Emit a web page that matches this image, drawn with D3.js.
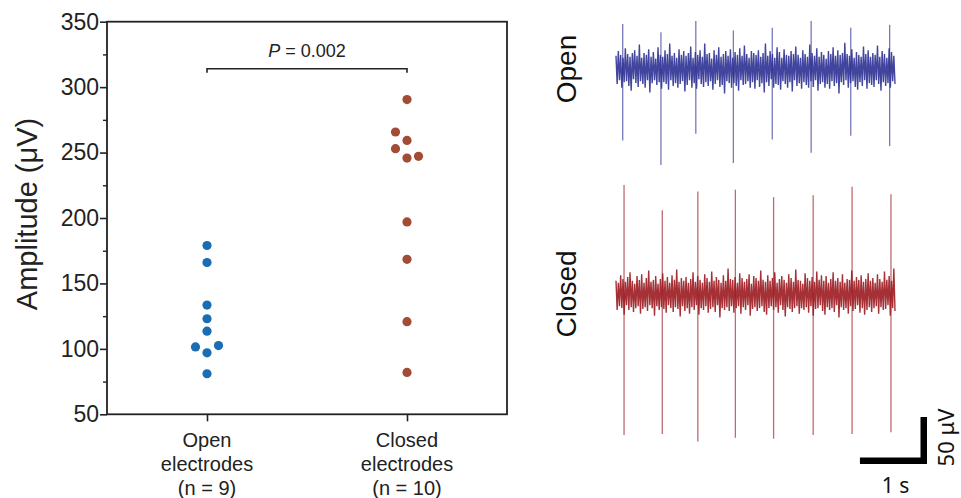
<!DOCTYPE html>
<html lang="en">
<head>
<meta charset="UTF-8">
<title>Amplitude open vs closed electrodes</title>
<script src="https://d3js.org/d3.v7.min.js"></script>
<style>
  body { margin: 0; background: #fff; }
  svg { display: block; font-family: "Liberation Sans", Arial, sans-serif; }
</style>
</head>
<body>
<div id="viz"></div>
<script>
// ---- data ----
var groups = ["Open", "Closed"];
var groupLabels = [["Open", "electrodes", "(n = 9)"], ["Closed", "electrodes", "(n = 10)"]];
var openAmp   = [179, 166, 133.5, 123, 113.5, 101.5, 102.5, 97, 81];
var openLane  = [0, 0, 0, 0, 0, -1, 1, 0, 0];
var closedAmp  = [290.5, 265.7, 259.3, 253, 247.1, 245.8, 197, 168.4, 120.8, 82];
var closedLane = [0, -1, 0, -1, 1, 0, 0, 0, 0, 0];
var yTicks = [50, 100, 150, 200, 250, 300, 350];
var yMinor = [75, 125, 175, 225, 275, 325];
var pText = "0.002";
var bracketAt = 314;   // µV level of the significance bracket

// traces: spike times (s), spike peak above / below baseline (µV)
var openSpikeT    = [0.10, 0.67, 1.19, 1.75, 2.33, 2.91, 3.50, 4.08];
var openSpikeUp   = [48, 39, 51, 41, 44, 51, 44, 47];
var openSpikeDown = [76, 102, 69, 100, 75, 89, 71, 82];
var closedSpikeT    = [0.12, 0.69, 1.22, 1.78, 2.35, 2.94, 3.52, 4.10];
var closedSpikeUp   = [116, 89, 109, 111, 103, 105, 114, 106];
var closedSpikeDown = [150, 149, 157, 153, 154, 150, 149, 147];
var traceDur = 4.16;   // s

// background noise peaks (µV), alternating up / down
var openNoise = [
  14,-16, 19,-12, 15,-20, 12,-14, 22,-13, 16,-18, 13,-23, 17,-11, 20,-15, 14,-19,
  26,-13, 12,-16, 17,-20, 15,-12, 21,-25, 13,-15, 18,-12, 11,-17, 23,-14, 15,-21,
  13,-14, 20,-16, 16,-22, 27,-12, 14,-18, 17,-15, 12,-20, 21,-16, 15,-13, 19,-24,
  14,-17, 17,-12, 24,-20, 12,-15, 18,-21, 15,-11, 20,-16, 13,-19, 27,-14, 16,-18,
  17,-13, 11,-22, 20,-16, 15,-12, 23,-19, 13,-17, 16,-26, 19,-13, 14,-15, 21,-20,
  12,-15, 18,-18, 15,-23, 22,-12, 14,-17, 25,-16, 16,-13, 12,-20, 19,-14, 17,-21,
  15,-12, 20,-19, 13,-15, 17,-25, 27,-14, 14,-18, 19,-11, 16,-20, 12,-16, 23,-17,
  18,-22, 12,-13, 21,-16, 15,-20, 14,-14, 19,-24, 16,-12, 24,-18, 15,-15, 12,-21,
  20,-14, 16,-17, 13,-20, 26,-13, 17,-19, 14,-12, 22,-23, 13,-16, 18,-14, 15,-20,
  11,-16, 19,-21, 16,-13, 23,-18, 14,-15, 20,-26, 15,-14, 17,-17, 28,-12, 16,-20,
  14,-15, 21,-13, 12,-19, 18,-22, 15,-14, 13,-18, 24,-12, 16,-21, 20,-15, 13,-17,
  17,-19, 15,-12, 25,-16, 13,-23, 19,-14, 16,-18, 12,-15, 22,-20, 18,-13, 14,-16];
var closedNoise = [
  14,-17, 12,-13, 20,-15, 16,-22, 13,-12, 18,-17, 23,-14, 14,-19, 11,-15, 19,-13,
  15,-21, 21,-16, 12,-14, 17,-18, 25,-12, 13,-15, 15,-23, 19,-13, 11,-17, 16,-14,
  22,-16, 14,-20, 18,-12, 12,-15, 20,-19, 15,-14, 26,-16, 13,-24, 17,-13, 14,-18,
  18,-15, 12,-21, 16,-14, 23,-17, 13,-12, 19,-22, 15,-15, 12,-17, 21,-13, 17,-20,
  13,-16, 24,-14, 14,-19, 18,-12, 15,-25, 12,-15, 20,-17, 14,-14, 27,-18, 16,-13,
  15,-20, 18,-15, 12,-13, 22,-21, 17,-14, 13,-17, 16,-12, 21,-23, 11,-16, 19,-14,
  17,-18, 14,-15, 25,-13, 15,-19, 13,-22, 20,-15, 14,-13, 17,-17, 23,-14, 12,-20,
  16,-12, 19,-17, 15,-24, 12,-14, 21,-16, 17,-19, 13,-15, 26,-13, 15,-21, 14,-15,
  11,-17, 22,-14, 17,-20, 14,-13, 18,-23, 13,-16, 24,-15, 15,-12, 20,-18, 14,-22,
  19,-14, 12,-17, 16,-15, 23,-19, 14,-12, 17,-25, 13,-14, 21,-17, 12,-15, 16,-21,
  15,-13, 25,-18, 14,-16, 18,-12, 15,-20, 20,-15, 13,-22, 16,-17, 22,-14, 14,-19,
  17,-15, 12,-13, 21,-21, 16,-14, 13,-17, 24,-16, 15,-12, 19,-23, 14,-15, 27,-18];

var W = 961, H = 498;
var svg = d3.select("#viz").append("svg")
  .attr("width", W)
  .attr("height", H);

// ================= left: dot plot =================
var fx0 = 107, fx1 = 507, fy0 = 21.7, fy1 = 414.3;
var y = d3.scaleLinear().domain([50, 350]).range([fy1, fy0]);
var x = d3.scalePoint().domain(groups).range([fx0, fx1]).padding(0.5);
var lane = d3.scaleLinear().domain([-1, 1]).range([-11.5, 11.5]);

var plot = svg.append("g");

// frame
plot.append("rect")
  .attr("x", fx0).attr("y", fy0)
  .attr("width", fx1 - fx0).attr("height", fy1 - fy0)
  .attr("fill", "none").attr("stroke", "#222").attr("stroke-width", 1.8);

// y axis, major + minor ticks
var yAx = plot.append("g").attr("transform", "translate(" + fx0 + ",0)")
  .call(d3.axisLeft(y).tickValues(yTicks).tickSize(7).tickPadding(1));
yAx.select(".domain").remove();
yAx.selectAll("line").attr("stroke", "#222").attr("stroke-width", 1.6);
yAx.selectAll("text").attr("font-size", 23).attr("fill", "#222")
  .attr("font-family", "Liberation Sans, Arial, sans-serif");

var yMin = plot.append("g").attr("transform", "translate(" + fx0 + ",0)")
  .call(d3.axisLeft(y).tickValues(yMinor).tickSize(4).tickFormat(""));
yMin.select(".domain").remove();
yMin.selectAll("line").attr("stroke", "#222").attr("stroke-width", 1.4);

// x axis ticks
var xAx = plot.append("g").attr("transform", "translate(0," + fy1 + ")")
  .call(d3.axisBottom(x).tickSize(7).tickFormat(""));
xAx.select(".domain").remove();
xAx.selectAll("line").attr("stroke", "#222").attr("stroke-width", 1.6);

// category labels, three lines each
groups.forEach(function(g, i){
  var t = plot.append("text")
    .attr("text-anchor", "middle")
    .attr("font-size", 20).attr("fill", "#222");
  groupLabels[i].forEach(function(line, k){
    t.append("tspan").attr("x", x(g)).attr("y", 447 + k * 24).text(line);
  });
});

// y title
plot.append("text")
  .attr("transform", "translate(37," + ((fy0 + fy1) / 2 - 4) + ") rotate(-90)")
  .attr("text-anchor", "middle")
  .attr("font-size", 29).attr("fill", "#222")
  .text("Amplitude (\u03bcV)");

// dots
function dots(vals, lanes, g, col){
  plot.append("g").selectAll("circle")
    .data(vals)
    .enter().append("circle")
    .attr("cx", function(d, i){ return x(g) + lane(lanes[i]); })
    .attr("cy", function(d){ return y(d); })
    .attr("r", 4.6)
    .attr("fill", col);
}
dots(openAmp, openLane, "Open", "#1b6db3");
dots(closedAmp, closedLane, "Closed", "#a24b35");

// significance bracket
var by = y(bracketAt), bt = y(bracketAt - 3);
plot.append("path")
  .attr("d", "M" + x("Open") + "," + bt + "V" + by + "H" + x("Closed") + "V" + bt)
  .attr("fill", "none").attr("stroke", "#222").attr("stroke-width", 1.6);
var pt = plot.append("text")
  .attr("x", (x("Open") + x("Closed")) / 2).attr("y", by - 12)
  .attr("text-anchor", "middle").attr("font-size", 18).attr("fill", "#222");
pt.append("tspan").attr("font-style", "italic").text("P");
pt.append("tspan").text(" = " + pText);

// ================= right: example traces =================
var xt = d3.scaleLinear().domain([0, traceDur]).range([616, 895]);
var uvPx = 47 / 50;  // 50 µV bar = 47 px

function trace(cy, noise, spT, spUp, spDown, col, label){
  var yt = d3.scaleLinear().domain([-1, 1]).range([cy + uvPx, cy - uvPx]);
  var g = svg.append("g");
  var n = noise.length;
  var line = d3.line()
    .x(function(d, i){ return xt(i * traceDur / (n - 1)); })
    .y(function(d){ return yt(d); });
  // spikes first, noise band drawn on top
  g.selectAll("line.spike")
    .data(spT)
    .enter().append("line")
    .attr("class", "spike")
    .attr("x1", function(d){ return xt(d); })
    .attr("x2", function(d){ return xt(d); })
    .attr("y1", function(d, i){ return yt(spUp[i]); })
    .attr("y2", function(d, i){ return yt(-spDown[i]); })
    .attr("stroke", col)
    .attr("stroke-width", 1.3)
    .attr("stroke-opacity", 0.65);
  g.append("path")
    .datum(noise)
    .attr("d", line)
    .attr("fill", "none")
    .attr("stroke", col)
    .attr("stroke-width", 1.4)
    .attr("stroke-opacity", 0.9);
  svg.append("text")
    .attr("transform", "translate(576," + cy + ") rotate(-90)")
    .attr("text-anchor", "middle")
    .attr("font-size", 28).attr("fill", "#111")
    .text(label);
  return yt;
}
var ytOpen = trace(69, openNoise, openSpikeT, openSpikeUp, openSpikeDown, "#2e3192", "Open");
trace(294, closedNoise, closedSpikeT, closedSpikeUp, closedSpikeDown, "#9b1b20", "Closed");

// scale bar: 1 s x 50 µV
var sbx = 927, sby = 464, th = 6.5;
var sbW = xt(1) - xt(0);
var sbH = ytOpen(0) - ytOpen(50);
svg.append("rect").attr("x", sbx - sbW).attr("y", sby - th)
  .attr("width", sbW).attr("height", th).attr("fill", "#000");
svg.append("rect").attr("x", sbx - th).attr("y", sby - sbH)
  .attr("width", th).attr("height", sbH).attr("fill", "#000");
svg.append("text")
  .attr("x", sbx - sbW / 2 + 2).attr("y", 493)
  .attr("text-anchor", "middle")
  .attr("font-family", "Noto Sans, sans-serif")
  .attr("font-size", 21).attr("fill", "#111")
  .text("1 s");
svg.append("text")
  .attr("transform", "translate(954," + (sby - sbH / 2 - 3) + ") rotate(-90)")
  .attr("text-anchor", "middle")
  .attr("font-family", "Noto Sans, sans-serif")
  .attr("font-size", 22).attr("fill", "#111")
  .text("50 \u03bcV");
</script>
</body>
</html>
